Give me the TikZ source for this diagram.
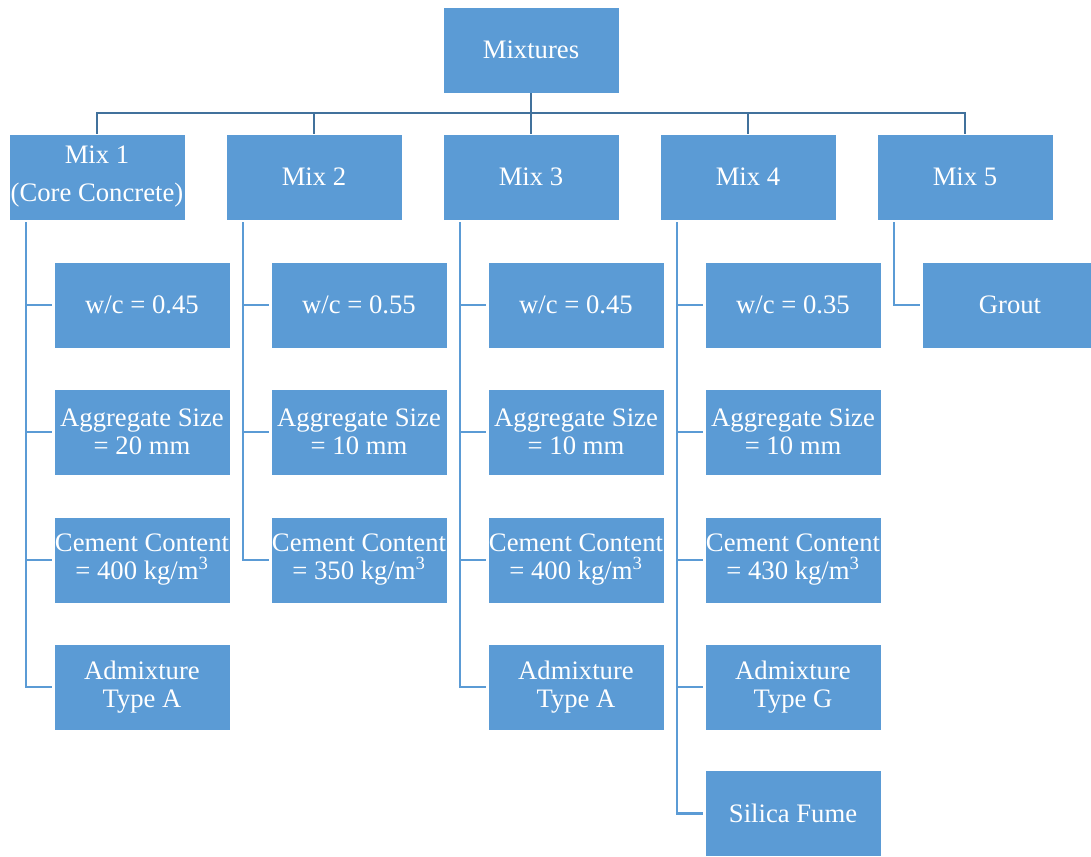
\documentclass[tikz,border=0pt]{standalone}
\usepackage{fontspec}
\setmainfont{Liberation Serif}
\definecolor{boxblue}{HTML}{5B9BD5}
\definecolor{linedark}{HTML}{41719C}

\begin{document}
\begin{tikzpicture}[x=0.75pt,y=-0.75pt,
  box/.style={rectangle,fill=boxblue,draw=white,line width=0.4pt,text=white,
    minimum width=132pt,minimum height=64.5pt,inner sep=0pt,align=center,
    font=\fontsize{20}{21}\selectfont},
  main/.style={draw=linedark,line width=1.6pt},
  sub/.style={draw=boxblue,line width=1.6pt}]
\useasboundingbox (0,0) rectangle (1091,856);
\node [box] (mix) at (531,50) {Mixtures};
\node [box] (m1) at (97,177) {Mix 1\\[7.5pt](Core Concrete)};
\node [box] (m2) at (314,177) {Mix 2};
\node [box] (m3) at (531,177) {Mix 3};
\node [box] (m4) at (748,177) {Mix 4};
\node [box] (m5) at (965,177) {Mix 5};
\foreach \m in {m1,m2,m3,m4,m5}
  \draw [main] (mix.south) -- ++(0,20) -| (\m.north);

\node [box] (m1w) at (142,305) {w/c = 0.45};
\node [box] (m1a) at (142,432) {Aggregate Size\\= 20 mm};
\node [box] (m1c) at (142,560) {Cement Content\\= 400 kg/m\textsuperscript{3}};
\node [box] (m1x) at (142,687) {Admixture\\Type A};

\node [box] (m2w) at (359,305) {w/c = 0.55};
\node [box] (m2a) at (359,432) {Aggregate Size\\= 10 mm};
\node [box] (m2c) at (359,560) {Cement Content\\= 350 kg/m\textsuperscript{3}};

\node [box] (m3w) at (576,305) {w/c = 0.45};
\node [box] (m3a) at (576,432) {Aggregate Size\\= 10 mm};
\node [box] (m3c) at (576,560) {Cement Content\\= 400 kg/m\textsuperscript{3}};
\node [box] (m3x) at (576,687) {Admixture\\Type A};

\node [box] (m4w) at (793,305) {w/c = 0.35};
\node [box] (m4a) at (793,432) {Aggregate Size\\= 10 mm};
\node [box] (m4c) at (793,560) {Cement Content\\= 430 kg/m\textsuperscript{3}};
\node [box] (m4x) at (793,687) {Admixture\\Type G};
\node [box] (m4s) at (793,813.5) {Silica Fume};

\node [box] (m5g) at (1010,305) {Grout};

\foreach \p/\c in {m1/m1w,m1/m1a,m1/m1c,m1/m1x,m2/m2w,m2/m2a,m2/m2c,
    m3/m3w,m3/m3a,m3/m3c,m3/m3x,m4/m4w,m4/m4a,m4/m4c,m4/m4x,m4/m4s,m5/m5g}
  \draw [sub] ([xshift=12.75pt,yshift=-1.5pt]\p.south west) |- ([xshift=-1.5pt]\c.west);
\end{tikzpicture}
\end{document}
